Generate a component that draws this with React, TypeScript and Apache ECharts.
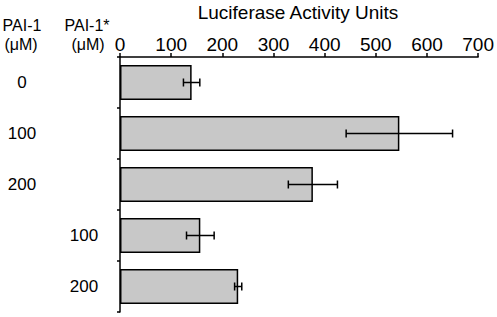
import React, { useEffect, useRef } from "react";
import * as echarts from "echarts";

const categories = ["a", "b", "c", "d", "e"];
const pai1Labels = ["0", "100", "200", "", ""];
const pai1StarLabels = ["", "", "", "100", "200"];
const values = [140, 546, 377, 157, 231];
const errors = [16, 104, 48, 27, 7];
const xTicks = [0, 100, 200, 300, 400, 500, 600, 700];

const FONT = "Liberation Sans, Arial, sans-serif";

export default function App() {
  const ref = useRef<HTMLDivElement>(null);
  useEffect(() => {
    if (!ref.current) return;
    const chart = echarts.init(ref.current, undefined, { renderer: "svg" });
    const errData = values.map((v, i) => [i, v - errors[i], v + errors[i]]);
    const txt = (text: string, x: number, y: number, size: number) => ({
      type: "text",
      x,
      y,
      style: { text, font: `${size}px ${FONT}`, fill: "#000", textAlign: "center", textVerticalAlign: "middle" },
    });
    chart.setOption({
      animation: false,
      textStyle: { fontFamily: FONT },
      grid: { left: 120, right: 17, top: 57, bottom: 5 },
      xAxis: {
        type: "value",
        position: "top",
        min: xTicks[0],
        max: xTicks[xTicks.length - 1],
        interval: 100,
        splitLine: { show: false },
        axisLine: { show: true, lineStyle: { color: "#000", width: 1.5 } },
        axisTick: { show: true, inside: false, length: 4, lineStyle: { color: "#000", width: 1.5 } },
        axisLabel: { color: "#000", fontSize: 19, fontFamily: FONT, margin: 3 },
      },
      yAxis: [
        {
          type: "category",
          data: categories,
          inverse: true,
          axisLine: { show: true, lineStyle: { color: "#000", width: 1.5 } },
          axisTick: { show: true, length: 3, lineStyle: { color: "#000", width: 1.5 } },
          axisLabel: {
            color: "#000",
            fontSize: 17,
            fontFamily: FONT,
            align: "center",
            margin: 36,
            padding: [4, 0, 0, 0],
            formatter: (_: string, i: number) => pai1StarLabels[i],
          },
        },
        {
          type: "category",
          data: categories,
          inverse: true,
          position: "left",
          axisLine: { show: false },
          axisTick: { show: false },
          axisLabel: {
            color: "#000",
            fontSize: 17,
            fontFamily: FONT,
            align: "center",
            margin: 98,
            padding: [4, 0, 0, 0],
            formatter: (_: string, i: number) => pai1Labels[i],
          },
        },
      ],
      series: [
        {
          type: "bar",
          data: values,
          barWidth: 35,
          itemStyle: { color: "#c8c8c8", borderColor: "#000", borderWidth: 1.5 },
        },
        {
          type: "custom",
          data: errData,
          z: 10,
          renderItem: (params: any, api: any) => {
            const idx = api.value(0);
            const lo = api.coord([api.value(1), idx]);
            const hi = api.coord([api.value(2), idx]);
            const y = lo[1];
            const h = 4;
            const style = { stroke: "#000", lineWidth: 1.5 };
            return {
              type: "group",
              children: [
                { type: "line", shape: { x1: lo[0], y1: y, x2: hi[0], y2: y }, style },
                { type: "line", shape: { x1: lo[0], y1: y - h, x2: lo[0], y2: y + h }, style },
                { type: "line", shape: { x1: hi[0], y1: y - h, x2: hi[0], y2: y + h }, style },
              ],
            };
          },
        },
      ],
      graphic: [
        txt("Luciferase Activity Units", 298, 12, 19),
        txt("PAI-1", 22, 25, 16),
        txt("(μM)", 21, 44, 16),
        txt("PAI-1*", 87, 25, 16),
        txt("(μM)", 88, 44, 16),
      ],
    });
    return () => chart.dispose();
  }, []);
  return (
    <div style={{ position: "absolute", left: 0, top: 0 }}>
      <div ref={ref} style={{ width: 497, height: 317 }} />
    </div>
  );
}
